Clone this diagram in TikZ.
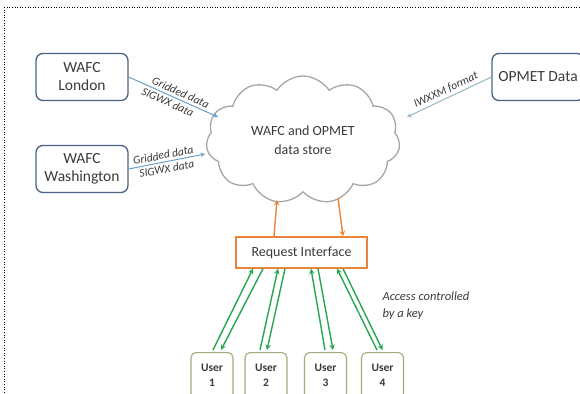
\documentclass[tikz,border=0pt]{standalone}
\usepackage{fontspec}
\setmainfont{Carlito}
\usetikzlibrary{arrows,%
                shapes.symbols,%
                calc}
\definecolor{boxblue}{HTML}{4A6283}
\definecolor{cloudgray}{HTML}{A6A6A6}
\definecolor{feedblue}{HTML}{6A9FC8}
\definecolor{opmblue}{HTML}{93B8C4}
\definecolor{orng}{HTML}{E8853A}
\definecolor{grn}{HTML}{23A84E}
\definecolor{usrline}{HTML}{A8A880}
\definecolor{txt}{HTML}{3A3A3A}
\tikzstyle{wafc}=[rectangle, draw=boxblue, rounded corners=7pt, line width=1.3pt, minimum width=92pt, minimum height=47pt, align=center, text=txt, font=\fontsize{15.5}{18}\selectfont]
\tikzstyle{store}=[cloud, draw=cloudgray, line width=1.3pt, cloud puffs=11, cloud puff arc=115, cloud ignores aspect, minimum width=194pt, minimum height=128pt, align=center, text=txt, font=\fontsize{14}{19}\selectfont]
\tikzstyle{reqbox}=[rectangle, draw=orng, line width=1.3pt, minimum width=131pt, minimum height=31pt, text=txt, font=\fontsize{14}{16}\selectfont]
\tikzstyle{userbox}=[rectangle, draw=usrline, rounded corners=5pt, line width=1.1pt, minimum width=42pt, minimum height=46pt, anchor=north, align=center, text=txt, font=\fontsize{11.5}{15}\selectfont\bfseries]
\tikzstyle{lbl}=[sloped, inner sep=2.5pt, text=txt, font=\fontsize{11.5}{12}\selectfont\itshape]

\begin{document}
\begin{tikzpicture}[x=1pt,y=-1pt]
  \useasboundingbox (0,0) rectangle (580,393);
  \clip (0,0) rectangle (580,393);
  \draw[dotted,semithick] (4,7) rectangle (640,440);

  \node[wafc] (london) at (82,77) {WAFC\\London};
  \node[wafc] (washington) at (82,169) {WAFC\\Washington};
  \node[wafc] (opmet) at (538,77) {OPMET Data};
  \node[store] (store) at (303,140) {WAFC and OPMET\\data store};
  \node[reqbox] (request) at (301.5,252.5) {Request Interface};

  \node[userbox] (user1) at (212,352) {User\\1};
  \node[userbox] (user2) at (266,352) {User\\2};
  \node[userbox] (user3) at (325.5,352) {User\\3};
  \node[userbox] (user4) at (382.5,352) {User\\4};

  \node[anchor=west, align=left, text=txt, font=\fontsize{12.5}{17}\selectfont\itshape] (key) at (379,306) {Access controlled\\by a key};

  %\tikzstyle{EdgeStyle}=[feed]
    \draw[feedblue, line width=1pt, -stealth] (london.east) -- node[lbl,above,pos=0.55] {Gridded data} node[lbl,below,pos=0.47] {SIGWX data} ([shift={(-85,-23)}]store.center);
    \draw[feedblue, line width=1pt, -stealth] (washington.east) -- node[lbl,above,pos=0.47] {Gridded data} node[lbl,below,pos=0.48] {SIGWX data} ([shift={(-98,14)}]store.center);
    \draw[opmblue, line width=1pt, -stealth] (opmet.west) -- node[lbl,above,pos=0.5] {IWXXM format} ([shift={(104,-23)}]store.center);

    \draw[orng, line width=1.4pt, -stealth] ([xshift=-27.5pt]request.north) -- ([shift={(-26,60)}]store.center);
    \draw[orng, line width=1.4pt, -stealth] ([shift={(35,58)}]store.center) -- ([xshift=41.5pt]request.north);

    \draw[grn, line width=1.4pt, -stealth] ([shift={(1,-2)}]user1.north) -- ([xshift=-48.5pt]request.south);
    \draw[grn, line width=1.4pt, -stealth] ([xshift=-38.5pt]request.south) -- ([shift={(9,-2)}]user1.north);
    \draw[grn, line width=1.4pt, -stealth] ([shift={(-6,-2)}]user2.north) -- ([xshift=-23.5pt]request.south);
    \draw[grn, line width=1.4pt, -stealth] ([xshift=-16.5pt]request.south) -- ([shift={(1,-2)}]user2.north);
    \draw[grn, line width=1.4pt, -stealth] ([shift={(-0.5,-2)}]user3.north) -- ([xshift=9.5pt]request.south);
    \draw[grn, line width=1.4pt, -stealth] ([xshift=16.5pt]request.south) -- ([shift={(7.5,-2)}]user3.north);
    \draw[grn, line width=1.4pt, -stealth] ([shift={(-5.5,-2)}]user4.north) -- ([xshift=35.5pt]request.south);
    \draw[grn, line width=1.4pt, -stealth] ([xshift=41.5pt]request.south) -- ([shift={(0,-2)}]user4.north);
\end{tikzpicture}
\end{document}
